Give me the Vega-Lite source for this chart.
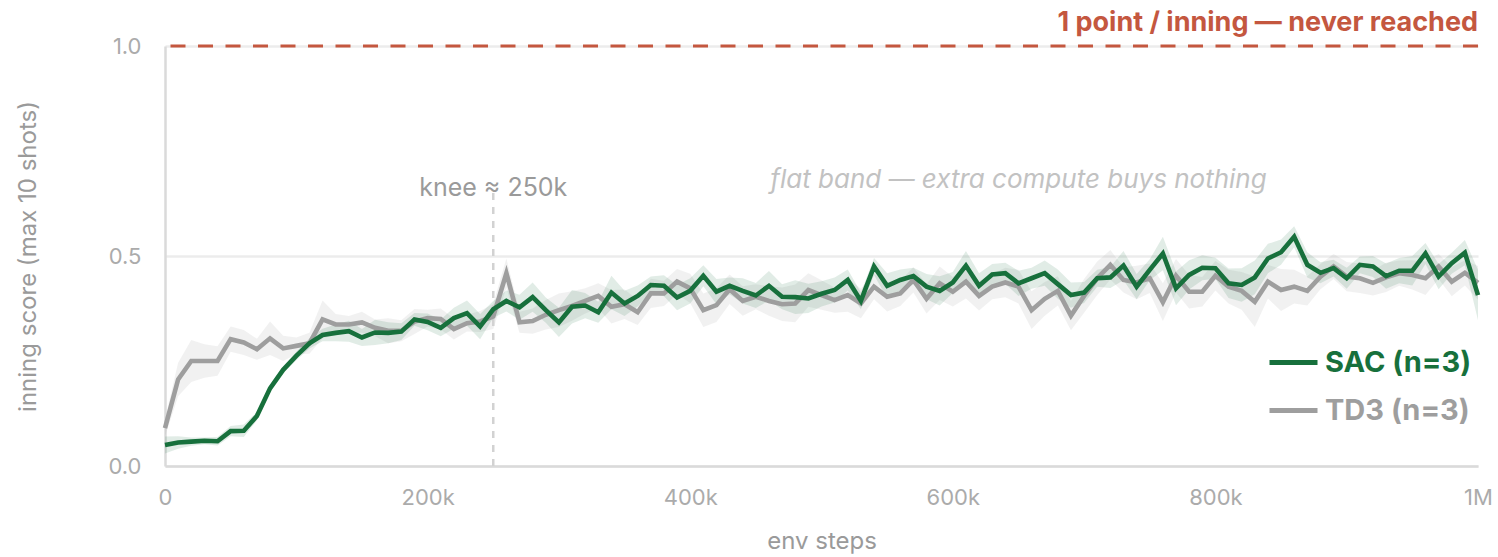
{
  "$schema": "https://vega.github.io/schema/vega-lite/v6.json",
  "width": 1313,
  "height": 420,
  "autosize": {"type": "none"},
  "padding": {"left": 165, "top": 46, "right": 20, "bottom": 91},
  "config": {
    "font": "Inter",
    "view": {"stroke": null},
    "axis": {
      "labelFont": "Inter",
      "titleFont": "Inter",
      "labelColor": "#ababab",
      "titleColor": "#9a9a9a",
      "titleFontWeight": "normal",
      "labelFontSize": 22,
      "titleFontSize": 24,
      "ticks": false,
      "labelFlush": false,
      "domainColor": "#dadada",
      "domainWidth": 2.5,
      "gridColor": "#ececec",
      "gridWidth": 2.5
    },
    "axisX": {"grid": false, "labelPadding": 21, "titlePadding": 21},
    "axisY": {"grid": true, "labelPadding": 24, "titlePadding": 68}
  },
  "datasets": {
    "runs": [
      {"s":0,"a":"TD3 (n=3)","m":0.090,"lo":0.070,"hi":0.110},
      {"s":10000,"a":"TD3 (n=3)","m":0.206,"lo":0.166,"hi":0.246},
      {"s":20000,"a":"TD3 (n=3)","m":0.250,"lo":0.200,"hi":0.300},
      {"s":30000,"a":"TD3 (n=3)","m":0.250,"lo":0.210,"hi":0.290},
      {"s":40000,"a":"TD3 (n=3)","m":0.250,"lo":0.215,"hi":0.285},
      {"s":50000,"a":"TD3 (n=3)","m":0.302,"lo":0.272,"hi":0.332},
      {"s":60000,"a":"TD3 (n=3)","m":0.294,"lo":0.264,"hi":0.324},
      {"s":70000,"a":"TD3 (n=3)","m":0.278,"lo":0.253,"hi":0.303},
      {"s":80000,"a":"TD3 (n=3)","m":0.304,"lo":0.264,"hi":0.344},
      {"s":90000,"a":"TD3 (n=3)","m":0.280,"lo":0.250,"hi":0.310},
      {"s":100000,"a":"TD3 (n=3)","m":0.286,"lo":0.266,"hi":0.306},
      {"s":110000,"a":"TD3 (n=3)","m":0.292,"lo":0.267,"hi":0.317},
      {"s":120000,"a":"TD3 (n=3)","m":0.349,"lo":0.304,"hi":0.394},
      {"s":130000,"a":"TD3 (n=3)","m":0.337,"lo":0.312,"hi":0.362},
      {"s":140000,"a":"TD3 (n=3)","m":0.337,"lo":0.317,"hi":0.357},
      {"s":150000,"a":"TD3 (n=3)","m":0.342,"lo":0.317,"hi":0.367},
      {"s":160000,"a":"TD3 (n=3)","m":0.329,"lo":0.309,"hi":0.349},
      {"s":170000,"a":"TD3 (n=3)","m":0.322,"lo":0.292,"hi":0.352},
      {"s":180000,"a":"TD3 (n=3)","m":0.322,"lo":0.297,"hi":0.347},
      {"s":190000,"a":"TD3 (n=3)","m":0.344,"lo":0.314,"hi":0.374},
      {"s":200000,"a":"TD3 (n=3)","m":0.352,"lo":0.332,"hi":0.372},
      {"s":210000,"a":"TD3 (n=3)","m":0.350,"lo":0.325,"hi":0.375},
      {"s":220000,"a":"TD3 (n=3)","m":0.326,"lo":0.301,"hi":0.351},
      {"s":230000,"a":"TD3 (n=3)","m":0.340,"lo":0.320,"hi":0.360},
      {"s":240000,"a":"TD3 (n=3)","m":0.344,"lo":0.319,"hi":0.369},
      {"s":250000,"a":"TD3 (n=3)","m":0.356,"lo":0.326,"hi":0.386},
      {"s":260000,"a":"TD3 (n=3)","m":0.459,"lo":0.424,"hi":0.494},
      {"s":270000,"a":"TD3 (n=3)","m":0.342,"lo":0.317,"hi":0.367},
      {"s":280000,"a":"TD3 (n=3)","m":0.345,"lo":0.315,"hi":0.375},
      {"s":290000,"a":"TD3 (n=3)","m":0.360,"lo":0.325,"hi":0.395},
      {"s":300000,"a":"TD3 (n=3)","m":0.371,"lo":0.331,"hi":0.411},
      {"s":310000,"a":"TD3 (n=3)","m":0.381,"lo":0.346,"hi":0.416},
      {"s":320000,"a":"TD3 (n=3)","m":0.393,"lo":0.363,"hi":0.423},
      {"s":330000,"a":"TD3 (n=3)","m":0.405,"lo":0.375,"hi":0.435},
      {"s":340000,"a":"TD3 (n=3)","m":0.379,"lo":0.339,"hi":0.419},
      {"s":350000,"a":"TD3 (n=3)","m":0.385,"lo":0.350,"hi":0.420},
      {"s":360000,"a":"TD3 (n=3)","m":0.366,"lo":0.336,"hi":0.396},
      {"s":370000,"a":"TD3 (n=3)","m":0.411,"lo":0.376,"hi":0.446},
      {"s":380000,"a":"TD3 (n=3)","m":0.411,"lo":0.381,"hi":0.441},
      {"s":390000,"a":"TD3 (n=3)","m":0.439,"lo":0.409,"hi":0.469},
      {"s":400000,"a":"TD3 (n=3)","m":0.423,"lo":0.388,"hi":0.458},
      {"s":410000,"a":"TD3 (n=3)","m":0.371,"lo":0.331,"hi":0.411},
      {"s":420000,"a":"TD3 (n=3)","m":0.383,"lo":0.343,"hi":0.423},
      {"s":430000,"a":"TD3 (n=3)","m":0.421,"lo":0.386,"hi":0.456},
      {"s":440000,"a":"TD3 (n=3)","m":0.393,"lo":0.358,"hi":0.428},
      {"s":450000,"a":"TD3 (n=3)","m":0.403,"lo":0.373,"hi":0.433},
      {"s":460000,"a":"TD3 (n=3)","m":0.393,"lo":0.358,"hi":0.428},
      {"s":470000,"a":"TD3 (n=3)","m":0.385,"lo":0.345,"hi":0.425},
      {"s":480000,"a":"TD3 (n=3)","m":0.387,"lo":0.342,"hi":0.432},
      {"s":490000,"a":"TD3 (n=3)","m":0.419,"lo":0.379,"hi":0.459},
      {"s":500000,"a":"TD3 (n=3)","m":0.407,"lo":0.372,"hi":0.442},
      {"s":510000,"a":"TD3 (n=3)","m":0.395,"lo":0.365,"hi":0.425},
      {"s":520000,"a":"TD3 (n=3)","m":0.407,"lo":0.367,"hi":0.447},
      {"s":530000,"a":"TD3 (n=3)","m":0.387,"lo":0.352,"hi":0.422},
      {"s":540000,"a":"TD3 (n=3)","m":0.427,"lo":0.397,"hi":0.457},
      {"s":550000,"a":"TD3 (n=3)","m":0.403,"lo":0.368,"hi":0.438},
      {"s":560000,"a":"TD3 (n=3)","m":0.411,"lo":0.381,"hi":0.441},
      {"s":570000,"a":"TD3 (n=3)","m":0.443,"lo":0.413,"hi":0.473},
      {"s":580000,"a":"TD3 (n=3)","m":0.398,"lo":0.363,"hi":0.433},
      {"s":590000,"a":"TD3 (n=3)","m":0.435,"lo":0.395,"hi":0.475},
      {"s":600000,"a":"TD3 (n=3)","m":0.415,"lo":0.380,"hi":0.450},
      {"s":610000,"a":"TD3 (n=3)","m":0.439,"lo":0.399,"hi":0.479},
      {"s":620000,"a":"TD3 (n=3)","m":0.405,"lo":0.370,"hi":0.440},
      {"s":630000,"a":"TD3 (n=3)","m":0.427,"lo":0.397,"hi":0.457},
      {"s":640000,"a":"TD3 (n=3)","m":0.437,"lo":0.402,"hi":0.472},
      {"s":650000,"a":"TD3 (n=3)","m":0.427,"lo":0.387,"hi":0.467},
      {"s":660000,"a":"TD3 (n=3)","m":0.371,"lo":0.326,"hi":0.416},
      {"s":670000,"a":"TD3 (n=3)","m":0.398,"lo":0.358,"hi":0.438},
      {"s":680000,"a":"TD3 (n=3)","m":0.417,"lo":0.382,"hi":0.452},
      {"s":690000,"a":"TD3 (n=3)","m":0.358,"lo":0.323,"hi":0.393},
      {"s":700000,"a":"TD3 (n=3)","m":0.405,"lo":0.365,"hi":0.445},
      {"s":710000,"a":"TD3 (n=3)","m":0.447,"lo":0.407,"hi":0.487},
      {"s":720000,"a":"TD3 (n=3)","m":0.479,"lo":0.444,"hi":0.514},
      {"s":730000,"a":"TD3 (n=3)","m":0.443,"lo":0.413,"hi":0.473},
      {"s":740000,"a":"TD3 (n=3)","m":0.437,"lo":0.397,"hi":0.477},
      {"s":750000,"a":"TD3 (n=3)","m":0.447,"lo":0.412,"hi":0.482},
      {"s":760000,"a":"TD3 (n=3)","m":0.390,"lo":0.345,"hi":0.435},
      {"s":770000,"a":"TD3 (n=3)","m":0.453,"lo":0.413,"hi":0.493},
      {"s":780000,"a":"TD3 (n=3)","m":0.415,"lo":0.375,"hi":0.455},
      {"s":790000,"a":"TD3 (n=3)","m":0.415,"lo":0.380,"hi":0.450},
      {"s":800000,"a":"TD3 (n=3)","m":0.453,"lo":0.418,"hi":0.488},
      {"s":810000,"a":"TD3 (n=3)","m":0.427,"lo":0.387,"hi":0.467},
      {"s":820000,"a":"TD3 (n=3)","m":0.417,"lo":0.372,"hi":0.462},
      {"s":830000,"a":"TD3 (n=3)","m":0.391,"lo":0.331,"hi":0.451},
      {"s":840000,"a":"TD3 (n=3)","m":0.439,"lo":0.399,"hi":0.479},
      {"s":850000,"a":"TD3 (n=3)","m":0.419,"lo":0.369,"hi":0.469},
      {"s":860000,"a":"TD3 (n=3)","m":0.427,"lo":0.387,"hi":0.467},
      {"s":870000,"a":"TD3 (n=3)","m":0.417,"lo":0.382,"hi":0.452},
      {"s":880000,"a":"TD3 (n=3)","m":0.451,"lo":0.421,"hi":0.481},
      {"s":890000,"a":"TD3 (n=3)","m":0.475,"lo":0.445,"hi":0.505},
      {"s":900000,"a":"TD3 (n=3)","m":0.451,"lo":0.416,"hi":0.486},
      {"s":910000,"a":"TD3 (n=3)","m":0.447,"lo":0.412,"hi":0.482},
      {"s":920000,"a":"TD3 (n=3)","m":0.436,"lo":0.406,"hi":0.466},
      {"s":930000,"a":"TD3 (n=3)","m":0.449,"lo":0.414,"hi":0.484},
      {"s":940000,"a":"TD3 (n=3)","m":0.459,"lo":0.429,"hi":0.489},
      {"s":950000,"a":"TD3 (n=3)","m":0.455,"lo":0.420,"hi":0.490},
      {"s":960000,"a":"TD3 (n=3)","m":0.447,"lo":0.407,"hi":0.487},
      {"s":970000,"a":"TD3 (n=3)","m":0.475,"lo":0.445,"hi":0.505},
      {"s":980000,"a":"TD3 (n=3)","m":0.439,"lo":0.404,"hi":0.474},
      {"s":990000,"a":"TD3 (n=3)","m":0.460,"lo":0.430,"hi":0.490},
      {"s":1000000,"a":"TD3 (n=3)","m":0.436,"lo":0.396,"hi":0.476},
      {"s":0,"a":"SAC (n=3)","m":0.050,"lo":0.030,"hi":0.070},
      {"s":10000,"a":"SAC (n=3)","m":0.056,"lo":0.041,"hi":0.071},
      {"s":20000,"a":"SAC (n=3)","m":0.058,"lo":0.048,"hi":0.068},
      {"s":30000,"a":"SAC (n=3)","m":0.060,"lo":0.052,"hi":0.068},
      {"s":40000,"a":"SAC (n=3)","m":0.059,"lo":0.049,"hi":0.069},
      {"s":50000,"a":"SAC (n=3)","m":0.083,"lo":0.071,"hi":0.095},
      {"s":60000,"a":"SAC (n=3)","m":0.084,"lo":0.069,"hi":0.099},
      {"s":70000,"a":"SAC (n=3)","m":0.119,"lo":0.109,"hi":0.129},
      {"s":80000,"a":"SAC (n=3)","m":0.185,"lo":0.177,"hi":0.193},
      {"s":90000,"a":"SAC (n=3)","m":0.229,"lo":0.221,"hi":0.237},
      {"s":100000,"a":"SAC (n=3)","m":0.262,"lo":0.252,"hi":0.272},
      {"s":110000,"a":"SAC (n=3)","m":0.292,"lo":0.280,"hi":0.304},
      {"s":120000,"a":"SAC (n=3)","m":0.312,"lo":0.297,"hi":0.327},
      {"s":130000,"a":"SAC (n=3)","m":0.317,"lo":0.297,"hi":0.337},
      {"s":140000,"a":"SAC (n=3)","m":0.321,"lo":0.296,"hi":0.346},
      {"s":150000,"a":"SAC (n=3)","m":0.306,"lo":0.286,"hi":0.326},
      {"s":160000,"a":"SAC (n=3)","m":0.318,"lo":0.288,"hi":0.348},
      {"s":170000,"a":"SAC (n=3)","m":0.317,"lo":0.292,"hi":0.342},
      {"s":180000,"a":"SAC (n=3)","m":0.320,"lo":0.300,"hi":0.340},
      {"s":190000,"a":"SAC (n=3)","m":0.349,"lo":0.334,"hi":0.364},
      {"s":200000,"a":"SAC (n=3)","m":0.343,"lo":0.323,"hi":0.363},
      {"s":210000,"a":"SAC (n=3)","m":0.329,"lo":0.309,"hi":0.349},
      {"s":220000,"a":"SAC (n=3)","m":0.352,"lo":0.327,"hi":0.377},
      {"s":230000,"a":"SAC (n=3)","m":0.364,"lo":0.334,"hi":0.394},
      {"s":240000,"a":"SAC (n=3)","m":0.332,"lo":0.302,"hi":0.362},
      {"s":250000,"a":"SAC (n=3)","m":0.373,"lo":0.353,"hi":0.393},
      {"s":260000,"a":"SAC (n=3)","m":0.393,"lo":0.368,"hi":0.418},
      {"s":270000,"a":"SAC (n=3)","m":0.378,"lo":0.348,"hi":0.408},
      {"s":280000,"a":"SAC (n=3)","m":0.402,"lo":0.367,"hi":0.437},
      {"s":290000,"a":"SAC (n=3)","m":0.371,"lo":0.341,"hi":0.401},
      {"s":300000,"a":"SAC (n=3)","m":0.342,"lo":0.307,"hi":0.377},
      {"s":310000,"a":"SAC (n=3)","m":0.379,"lo":0.339,"hi":0.419},
      {"s":320000,"a":"SAC (n=3)","m":0.382,"lo":0.352,"hi":0.412},
      {"s":330000,"a":"SAC (n=3)","m":0.366,"lo":0.341,"hi":0.391},
      {"s":340000,"a":"SAC (n=3)","m":0.413,"lo":0.373,"hi":0.453},
      {"s":350000,"a":"SAC (n=3)","m":0.387,"lo":0.357,"hi":0.417},
      {"s":360000,"a":"SAC (n=3)","m":0.405,"lo":0.380,"hi":0.430},
      {"s":370000,"a":"SAC (n=3)","m":0.431,"lo":0.411,"hi":0.451},
      {"s":380000,"a":"SAC (n=3)","m":0.429,"lo":0.404,"hi":0.454},
      {"s":390000,"a":"SAC (n=3)","m":0.401,"lo":0.371,"hi":0.431},
      {"s":400000,"a":"SAC (n=3)","m":0.417,"lo":0.387,"hi":0.447},
      {"s":410000,"a":"SAC (n=3)","m":0.453,"lo":0.428,"hi":0.478},
      {"s":420000,"a":"SAC (n=3)","m":0.415,"lo":0.385,"hi":0.445},
      {"s":430000,"a":"SAC (n=3)","m":0.429,"lo":0.409,"hi":0.449},
      {"s":440000,"a":"SAC (n=3)","m":0.417,"lo":0.387,"hi":0.447},
      {"s":450000,"a":"SAC (n=3)","m":0.406,"lo":0.376,"hi":0.436},
      {"s":460000,"a":"SAC (n=3)","m":0.429,"lo":0.394,"hi":0.464},
      {"s":470000,"a":"SAC (n=3)","m":0.403,"lo":0.373,"hi":0.433},
      {"s":480000,"a":"SAC (n=3)","m":0.402,"lo":0.362,"hi":0.442},
      {"s":490000,"a":"SAC (n=3)","m":0.399,"lo":0.364,"hi":0.434},
      {"s":500000,"a":"SAC (n=3)","m":0.410,"lo":0.380,"hi":0.440},
      {"s":510000,"a":"SAC (n=3)","m":0.419,"lo":0.389,"hi":0.449},
      {"s":520000,"a":"SAC (n=3)","m":0.443,"lo":0.418,"hi":0.468},
      {"s":530000,"a":"SAC (n=3)","m":0.393,"lo":0.373,"hi":0.413},
      {"s":540000,"a":"SAC (n=3)","m":0.475,"lo":0.455,"hi":0.495},
      {"s":550000,"a":"SAC (n=3)","m":0.429,"lo":0.399,"hi":0.459},
      {"s":560000,"a":"SAC (n=3)","m":0.443,"lo":0.418,"hi":0.468},
      {"s":570000,"a":"SAC (n=3)","m":0.452,"lo":0.432,"hi":0.472},
      {"s":580000,"a":"SAC (n=3)","m":0.427,"lo":0.397,"hi":0.457},
      {"s":590000,"a":"SAC (n=3)","m":0.417,"lo":0.382,"hi":0.452},
      {"s":600000,"a":"SAC (n=3)","m":0.437,"lo":0.412,"hi":0.462},
      {"s":610000,"a":"SAC (n=3)","m":0.477,"lo":0.442,"hi":0.512},
      {"s":620000,"a":"SAC (n=3)","m":0.429,"lo":0.399,"hi":0.459},
      {"s":630000,"a":"SAC (n=3)","m":0.456,"lo":0.431,"hi":0.481},
      {"s":640000,"a":"SAC (n=3)","m":0.459,"lo":0.434,"hi":0.484},
      {"s":650000,"a":"SAC (n=3)","m":0.435,"lo":0.405,"hi":0.465},
      {"s":660000,"a":"SAC (n=3)","m":0.447,"lo":0.422,"hi":0.472},
      {"s":670000,"a":"SAC (n=3)","m":0.459,"lo":0.429,"hi":0.489},
      {"s":680000,"a":"SAC (n=3)","m":0.433,"lo":0.398,"hi":0.468},
      {"s":690000,"a":"SAC (n=3)","m":0.407,"lo":0.377,"hi":0.437},
      {"s":700000,"a":"SAC (n=3)","m":0.413,"lo":0.388,"hi":0.438},
      {"s":710000,"a":"SAC (n=3)","m":0.447,"lo":0.427,"hi":0.467},
      {"s":720000,"a":"SAC (n=3)","m":0.449,"lo":0.424,"hi":0.474},
      {"s":730000,"a":"SAC (n=3)","m":0.477,"lo":0.442,"hi":0.512},
      {"s":740000,"a":"SAC (n=3)","m":0.427,"lo":0.397,"hi":0.457},
      {"s":750000,"a":"SAC (n=3)","m":0.467,"lo":0.442,"hi":0.492},
      {"s":760000,"a":"SAC (n=3)","m":0.506,"lo":0.466,"hi":0.546},
      {"s":770000,"a":"SAC (n=3)","m":0.423,"lo":0.383,"hi":0.463},
      {"s":780000,"a":"SAC (n=3)","m":0.455,"lo":0.420,"hi":0.490},
      {"s":790000,"a":"SAC (n=3)","m":0.472,"lo":0.442,"hi":0.502},
      {"s":800000,"a":"SAC (n=3)","m":0.471,"lo":0.446,"hi":0.496},
      {"s":810000,"a":"SAC (n=3)","m":0.435,"lo":0.400,"hi":0.470},
      {"s":820000,"a":"SAC (n=3)","m":0.431,"lo":0.391,"hi":0.471},
      {"s":830000,"a":"SAC (n=3)","m":0.449,"lo":0.409,"hi":0.489},
      {"s":840000,"a":"SAC (n=3)","m":0.494,"lo":0.459,"hi":0.529},
      {"s":850000,"a":"SAC (n=3)","m":0.509,"lo":0.479,"hi":0.539},
      {"s":860000,"a":"SAC (n=3)","m":0.546,"lo":0.521,"hi":0.571},
      {"s":870000,"a":"SAC (n=3)","m":0.479,"lo":0.449,"hi":0.509},
      {"s":880000,"a":"SAC (n=3)","m":0.460,"lo":0.435,"hi":0.485},
      {"s":890000,"a":"SAC (n=3)","m":0.471,"lo":0.451,"hi":0.491},
      {"s":900000,"a":"SAC (n=3)","m":0.447,"lo":0.422,"hi":0.472},
      {"s":910000,"a":"SAC (n=3)","m":0.479,"lo":0.459,"hi":0.499},
      {"s":920000,"a":"SAC (n=3)","m":0.475,"lo":0.450,"hi":0.500},
      {"s":930000,"a":"SAC (n=3)","m":0.452,"lo":0.422,"hi":0.482},
      {"s":940000,"a":"SAC (n=3)","m":0.465,"lo":0.435,"hi":0.495},
      {"s":950000,"a":"SAC (n=3)","m":0.465,"lo":0.430,"hi":0.500},
      {"s":960000,"a":"SAC (n=3)","m":0.506,"lo":0.481,"hi":0.531},
      {"s":970000,"a":"SAC (n=3)","m":0.451,"lo":0.421,"hi":0.481},
      {"s":980000,"a":"SAC (n=3)","m":0.483,"lo":0.458,"hi":0.508},
      {"s":990000,"a":"SAC (n=3)","m":0.508,"lo":0.478,"hi":0.538},
      {"s":1000000,"a":"SAC (n=3)","m":0.407,"lo":0.347,"hi":0.467}
    ]
  },
  "layer": [
    {
      "data": {"name": "runs"},
      "transform": [{"filter": "datum.a === 'TD3 (n=3)'"}],
      "mark": {"type": "area", "fill": "#9e9e9e", "fillOpacity": 0.15, "interpolate": "linear"},
      "encoding": {
        "x": {"field": "s", "type": "quantitative", "title": "env steps", "scale": {"domain": [0, 1000000], "nice": false, "zero": false},
              "axis": {"values": [0, 200000, 400000, 600000, 800000, 1000000], "labelExpr": "datum.value == 0 ? '0' : (datum.value >= 1000000 ? '1M' : (datum.value / 1000) + 'k')"}},
        "y": {"field": "lo", "type": "quantitative", "title": "inning score (max 10 shots)", "scale": {"domain": [0, 1], "nice": false},
              "axis": {"values": [0, 0.5, 1], "format": ".1f"}},
        "y2": {"field": "hi"}
      }
    },
    {
      "data": {"name": "runs"},
      "transform": [{"filter": "datum.a === 'SAC (n=3)'"}],
      "mark": {"type": "area", "fill": "#17703c", "fillOpacity": 0.13, "interpolate": "linear"},
      "encoding": {
        "x": {"field": "s", "type": "quantitative", "title": "env steps"},
        "y": {"field": "lo", "type": "quantitative", "title": "inning score (max 10 shots)"},
        "y2": {"field": "hi"}
      }
    },
    {
      "data": {"values": [{}]},
      "mark": {"type": "rule", "color": "#c4573f", "strokeWidth": 3, "strokeDash": [15, 12.5]},
      "encoding": {"y": {"datum": 1}}
    },
    {
      "data": {"values": [{}]},
      "mark": {"type": "rule", "color": "#d2d2d2", "strokeWidth": 2.5, "strokeDash": [7, 7]},
      "encoding": {"x": {"datum": 250000}, "y": {"datum": 0}, "y2": {"datum": 0.655}}
    },
    {
      "data": {"name": "runs"},
      "mark": {"type": "line", "strokeWidth": 4.6},
      "encoding": {
        "x": {"field": "s", "type": "quantitative", "title": "env steps"},
        "y": {"field": "m", "type": "quantitative", "title": "inning score (max 10 shots)"},
        "color": {"field": "a", "type": "nominal",
          "scale": {"domain": ["SAC (n=3)", "TD3 (n=3)"], "range": ["#17703c", "#9e9e9e"]},
          "legend": {
            "orient": "none", "legendX": 1102, "legendY": 290, "title": null,
            "labelFont": "Inter", "labelFontSize": 29, "labelFontWeight": "bold",
            "symbolType": "stroke", "symbolStrokeWidth": 5, "symbolSize": 2304,
            "labelOffset": 5, "rowPadding": 6,
            "encode": {"labels": {"update": {"fill": {"signal": "datum.value === 'SAC (n=3)' ? '#17703c' : '#9e9e9e'"}}}}
          }
        }
      }
    },
    {
      "data": {"values": [{}]},
      "mark": {"type": "text", "text": "1 point / inning — never reached", "align": "right", "baseline": "alphabetic", "dy": -15, "fontSize": 27, "fontWeight": "bold", "color": "#c4573f"},
      "encoding": {"x": {"datum": 1000000}, "y": {"datum": 1}}
    },
    {
      "data": {"values": [{}]},
      "mark": {"type": "text", "text": "knee ≈ 250k", "align": "center", "baseline": "middle", "fontSize": 25, "color": "#9a9a9a"},
      "encoding": {"x": {"datum": 250000}, "y": {"datum": 0.662}}
    },
    {
      "data": {"values": [{}]},
      "mark": {"type": "text", "text": "flat band — extra compute buys nothing", "align": "center", "baseline": "middle", "fontSize": 26, "fontStyle": "italic", "color": "#c2c2c2"},
      "encoding": {"x": {"datum": 650000}, "y": {"datum": 0.681}}
    }
  ]
}
